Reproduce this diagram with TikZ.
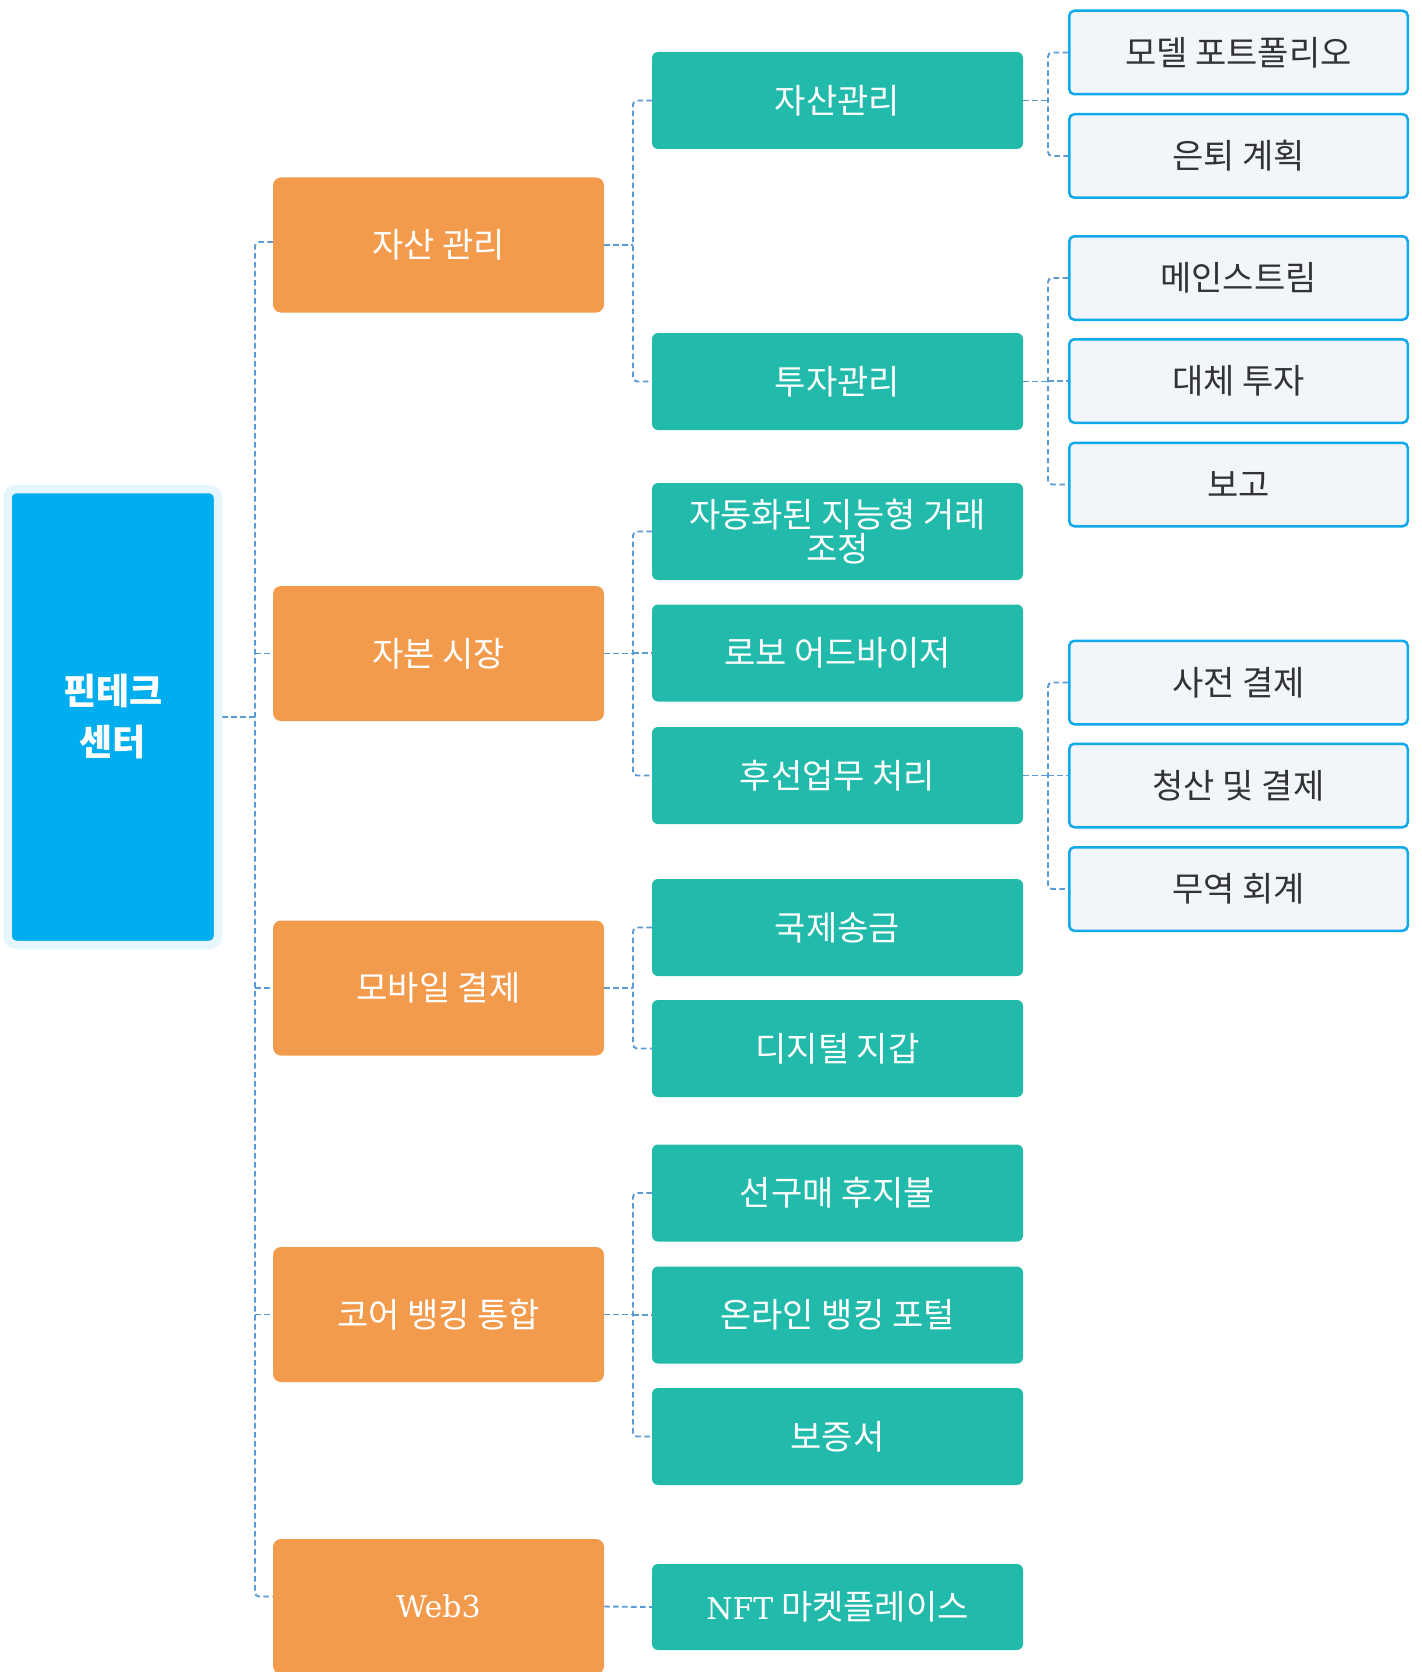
\documentclass[tikz,border=0pt]{standalone}
\usepackage{fontspec}
\setmainfont{Noto Sans CJK KR}
\newfontfamily\latinserif{DejaVu Serif}
\usetikzlibrary{calc,backgrounds}
\definecolor{rootblue}{HTML}{00AEEF}
\definecolor{halo}{HTML}{E5F6FD}
\definecolor{orangebox}{HTML}{F39B4D}
\definecolor{greenbox}{HTML}{22BAAB}
\definecolor{leaffill}{HTML}{F2F6FB}
\definecolor{leafline}{HTML}{12A9EA}
\definecolor{connblue}{HTML}{5B9BD5}
\definecolor{leaftext}{HTML}{333333}
\newcommand{\lat}[1]{{\latinserif\fontsize{30}{34}\selectfont #1}}
\begin{document}
\begin{tikzpicture}[x=1pt,y=-1pt,
  rootbox/.style={fill=rootblue, draw=halo, line width=8.5pt, rounded corners=9pt,
    minimum width=210.5pt, minimum height=456pt, inner sep=0pt, text=white,
    align=center, font=\fontsize{36}{51}\selectfont\bfseries},
  catbox/.style={fill=orangebox, rounded corners=8pt, minimum width=331pt,
    minimum height=135pt, inner sep=0pt, text=white, align=center,
    font=\fontsize{34}{34}\selectfont},
  subbox/.style={fill=greenbox, rounded corners=6pt, minimum width=371pt,
    minimum height=97pt, inner sep=0pt, text=white, align=center,
    font=\fontsize{34}{34}\selectfont},
  leafbox/.style={fill=leaffill, draw=leafline, line width=2.5pt, rounded corners=5pt,
    minimum width=338.5pt, minimum height=83.5pt, inner sep=0pt, text=leaftext,
    align=center, font=\fontsize{34}{34}\selectfont},
  conn/.style={draw=connblue, line width=1.9pt, dash pattern=on 5.5pt off 3.5pt}
]
\useasboundingbox (0,0) rectangle (1421,1672);

% root
\node[rootbox] (root) at (112.75,717) {핀테크\\센터};

% categories
\node[catbox] (c1) at (438.5,245) {자산 관리};
\node[catbox] (c2) at (438.5,653.5) {자본 시장};
\node[catbox] (c3) at (438.5,988) {모바일 결제};
\node[catbox] (c4) at (438.5,1314.5) {코어 뱅킹 통합};
\node[catbox] (c5) at (438.5,1606.5) {\lat{Web3}};

% sub nodes
\node[subbox] (s1) at (837.5,100.5) {자산관리};
\node[subbox] (s2) at (837.5,381.5) {투자관리};
\node[subbox] (s3) at (837.5,531.5) {자동화된 지능형 거래\\조정};
\node[subbox] (s4) at (837.5,653) {로보 어드바이저};
\node[subbox] (s5) at (837.5,775.5) {후선업무 처리};
\node[subbox] (s6) at (837.5,927.5) {국제송금};
\node[subbox] (s7) at (837.5,1048.5) {디지털 지갑};
\node[subbox] (s8) at (837.5,1193) {선구매 후지불};
\node[subbox] (s9) at (837.5,1315) {온라인 뱅킹 포털};
\node[subbox] (s10) at (837.5,1436.5) {보증서};
\node[subbox, minimum height=86pt] (s11) at (837.5,1607) {\lat{NFT} 마켓플레이스};

% leaves
\node[leafbox] (l1) at (1238.5,52.5) {모델 포트폴리오};
\node[leafbox] (l2) at (1238.5,156) {은퇴 계획};
\node[leafbox] (l3) at (1238.5,278) {메인스트림};
\node[leafbox] (l4) at (1238.5,381) {대체 투자};
\node[leafbox] (l5) at (1238.5,484.5) {보고};
\node[leafbox] (l6) at (1238.5,682.5) {사전 결제};
\node[leafbox] (l7) at (1238.5,785.5) {청산 및 결제};
\node[leafbox] (l8) at (1238.5,889) {무역 회계};

\coordinate (tr) at (255,0);
\coordinate (b1) at (633,0);
\coordinate (b2) at (1048,0);
\coordinate (c5in) at ($(c5.west)+(0,-10)$);
\coordinate (c1in) at ($(c1.west)+(0,-3)$);

\begin{pgfonlayer}{background}
% root to trunk
\draw[conn] (root.east) -- (tr |- root.east);
\draw[conn, rounded corners=4pt] (c1in) -- (tr |- c1in) -- (tr |- c5in) -- (c5in);
\draw[conn] (tr |- c2.west) -- (c2.west);
\draw[conn] (tr |- c3.west) -- (c3.west);
\draw[conn] (tr |- c4.west) -- (c4.west);

% category 1
\draw[conn] (c1.east) -- (b1 |- c1.east);
\draw[conn, rounded corners=4pt] (s1.west) -- (b1 |- s1.west) -- (b1 |- s2.west) -- (s2.west);
% category 2
\draw[conn] (c2.east) -- (b1 |- c2.east);
\draw[conn, rounded corners=4pt] (s3.west) -- (b1 |- s3.west) -- (b1 |- s5.west) -- (s5.west);
\draw[conn] (b1 |- s4.west) -- (s4.west);
% category 3
\draw[conn] (c3.east) -- (b1 |- c3.east);
\draw[conn, rounded corners=4pt] (s6.west) -- (b1 |- s6.west) -- (b1 |- s7.west) -- (s7.west);
% category 4
\draw[conn] (c4.east) -- (b1 |- c4.east);
\draw[conn, rounded corners=4pt] (s8.west) -- (b1 |- s8.west) -- (b1 |- s10.west) -- (s10.west);
\draw[conn] (b1 |- s9.west) -- (s9.west);
% category 5
\draw[conn] (c5.east) -- (s11.west);

% sub 1 leaves
\draw[conn] (s1.east) -- (b2 |- s1.east);
\draw[conn, rounded corners=4pt] (l1.west) -- (b2 |- l1.west) -- (b2 |- l2.west) -- (l2.west);
% sub 2 leaves
\draw[conn] (s2.east) -- (b2 |- s2.east);
\draw[conn, rounded corners=4pt] (l3.west) -- (b2 |- l3.west) -- (b2 |- l5.west) -- (l5.west);
\draw[conn] (b2 |- l4.west) -- (l4.west);
% sub 5 leaves
\draw[conn] (s5.east) -- (b2 |- s5.east);
\draw[conn, rounded corners=4pt] (l6.west) -- (b2 |- l6.west) -- (b2 |- l8.west) -- (l8.west);
\draw[conn] (b2 |- s5.east) -- (l7.west |- s5.east);
\end{pgfonlayer}
\end{tikzpicture}
\end{document}
